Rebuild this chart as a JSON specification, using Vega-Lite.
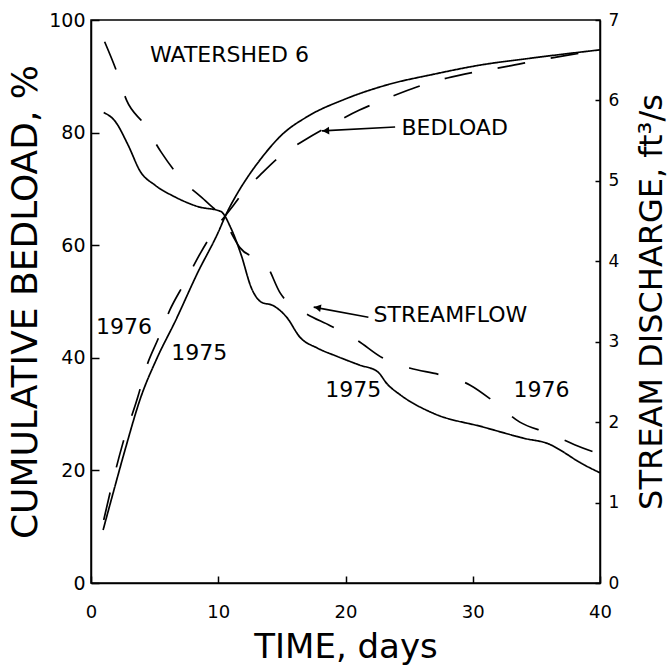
{
  "$schema": "https://vega.github.io/schema/vega-lite/v6.json",
  "width": 509,
  "height": 563,
  "autosize": {"type": "none"},
  "padding": {"left": 91, "top": 20, "right": 72, "bottom": 83},
  "background": "white",
  "config": {
    "font": "DejaVu Sans",
    "view": {"stroke": "black", "strokeWidth": 1.5},
    "axis": {
      "domainColor": "black", "domainWidth": 1.5,
      "tickColor": "black", "tickWidth": 1.5,
      "labelColor": "black", "titleColor": "black",
      "titleFontWeight": "normal", "grid": false,
      "labelFont": "DejaVu Sans", "titleFont": "DejaVu Sans"
    }
  },
  "datasets": {
    "bedload": [
      {"t": 0.95, "p": 9.4, "year": "1975"},
      {"t": 1.8, "p": 16.5, "year": "1975"},
      {"t": 2.67, "p": 23.6, "year": "1975"},
      {"t": 3.9, "p": 32.9, "year": "1975"},
      {"t": 5.2, "p": 40.0, "year": "1975"},
      {"t": 6.6, "p": 46.4, "year": "1975"},
      {"t": 8.4, "p": 55.2, "year": "1975"},
      {"t": 10.0, "p": 62.3, "year": "1975"},
      {"t": 10.6, "p": 65.4, "year": "1975"},
      {"t": 11.5, "p": 69.2, "year": "1975"},
      {"t": 12.4, "p": 72.4, "year": "1975"},
      {"t": 13.3, "p": 75.2, "year": "1975"},
      {"t": 14.9, "p": 79.4, "year": "1975"},
      {"t": 17.2, "p": 83.1, "year": "1975"},
      {"t": 19.8, "p": 85.8, "year": "1975"},
      {"t": 23.3, "p": 88.5, "year": "1975"},
      {"t": 27.0, "p": 90.4, "year": "1975"},
      {"t": 30.6, "p": 92.0, "year": "1975"},
      {"t": 34.5, "p": 93.2, "year": "1975"},
      {"t": 40.0, "p": 94.7, "year": "1975"},
      {"t": 1.0, "p": 11.2, "year": "1976"},
      {"t": 1.6, "p": 17.0, "year": "1976"},
      {"t": 2.5, "p": 24.8, "year": "1976"},
      {"t": 3.7, "p": 33.2, "year": "1976"},
      {"t": 4.3, "p": 38.0, "year": "1976"},
      {"t": 5.3, "p": 43.5, "year": "1976"},
      {"t": 6.2, "p": 48.5, "year": "1976"},
      {"t": 7.4, "p": 53.5, "year": "1976"},
      {"t": 8.6, "p": 58.6, "year": "1976"},
      {"t": 9.8, "p": 63.0, "year": "1976"},
      {"t": 11.0, "p": 66.5, "year": "1976"},
      {"t": 12.0, "p": 69.5, "year": "1976"},
      {"t": 13.3, "p": 72.5, "year": "1976"},
      {"t": 14.7, "p": 75.5, "year": "1976"},
      {"t": 16.8, "p": 78.7, "year": "1976"},
      {"t": 18.8, "p": 81.3, "year": "1976"},
      {"t": 21.1, "p": 84.0, "year": "1976"},
      {"t": 23.3, "p": 86.1, "year": "1976"},
      {"t": 25.6, "p": 88.1, "year": "1976"},
      {"t": 28.0, "p": 89.7, "year": "1976"},
      {"t": 30.3, "p": 90.8, "year": "1976"},
      {"t": 32.8, "p": 91.8, "year": "1976"},
      {"t": 35.3, "p": 92.9, "year": "1976"},
      {"t": 37.6, "p": 93.8, "year": "1976"},
      {"t": 40.0, "p": 94.6, "year": "1976"}
    ],
    "streamflow": [
      {"t": 1.0, "q": 5.85, "year": "1975"},
      {"t": 1.9, "q": 5.74, "year": "1975"},
      {"t": 2.9, "q": 5.45, "year": "1975"},
      {"t": 3.9, "q": 5.11, "year": "1975"},
      {"t": 5.0, "q": 4.95, "year": "1975"},
      {"t": 6.6, "q": 4.80, "year": "1975"},
      {"t": 8.4, "q": 4.68, "year": "1975"},
      {"t": 10.2, "q": 4.62, "year": "1975"},
      {"t": 11.0, "q": 4.41, "year": "1975"},
      {"t": 11.8, "q": 4.08, "year": "1975"},
      {"t": 12.6, "q": 3.67, "year": "1975"},
      {"t": 13.4, "q": 3.49, "year": "1975"},
      {"t": 14.3, "q": 3.45, "year": "1975"},
      {"t": 15.4, "q": 3.30, "year": "1975"},
      {"t": 16.4, "q": 3.06, "year": "1975"},
      {"t": 17.8, "q": 2.92, "year": "1975"},
      {"t": 19.3, "q": 2.82, "year": "1975"},
      {"t": 21.1, "q": 2.71, "year": "1975"},
      {"t": 22.5, "q": 2.63, "year": "1975"},
      {"t": 23.3, "q": 2.47, "year": "1975"},
      {"t": 24.3, "q": 2.34, "year": "1975"},
      {"t": 26.9, "q": 2.11, "year": "1975"},
      {"t": 30.8, "q": 1.94, "year": "1975"},
      {"t": 34.0, "q": 1.80, "year": "1975"},
      {"t": 36.1, "q": 1.72, "year": "1975"},
      {"t": 36.9, "q": 1.65, "year": "1975"},
      {"t": 38.4, "q": 1.50, "year": "1975"},
      {"t": 40.0, "q": 1.37, "year": "1975"},
      {"t": 1.07, "q": 6.73, "year": "1976"},
      {"t": 1.97, "q": 6.38, "year": "1976"},
      {"t": 2.8, "q": 6.0, "year": "1976"},
      {"t": 4.2, "q": 5.70, "year": "1976"},
      {"t": 5.5, "q": 5.36, "year": "1976"},
      {"t": 7.0, "q": 5.04, "year": "1976"},
      {"t": 9.0, "q": 4.75, "year": "1976"},
      {"t": 10.3, "q": 4.55, "year": "1976"},
      {"t": 11.7, "q": 4.17, "year": "1976"},
      {"t": 13.8, "q": 3.95, "year": "1976"},
      {"t": 14.85, "q": 3.61, "year": "1976"},
      {"t": 16.7, "q": 3.37, "year": "1976"},
      {"t": 18.8, "q": 3.20, "year": "1976"},
      {"t": 20.9, "q": 3.02, "year": "1976"},
      {"t": 22.9, "q": 2.80, "year": "1976"},
      {"t": 25.1, "q": 2.67, "year": "1976"},
      {"t": 27.4, "q": 2.59, "year": "1976"},
      {"t": 29.8, "q": 2.46, "year": "1976"},
      {"t": 31.7, "q": 2.25, "year": "1976"},
      {"t": 33.7, "q": 2.00, "year": "1976"},
      {"t": 36.0, "q": 1.86, "year": "1976"},
      {"t": 38.0, "q": 1.72, "year": "1976"},
      {"t": 40.0, "q": 1.60, "year": "1976"}
    ],
    "labels": [
      {"t": 4.64, "p": 93.8, "label": "WATERSHED 6"},
      {"t": 24.4, "p": 80.8, "label": "BEDLOAD"},
      {"t": 22.2, "p": 47.6, "label": "STREAMFLOW"},
      {"t": 0.4, "p": 45.5, "label": "1976"},
      {"t": 6.3, "p": 40.9, "label": "1975"},
      {"t": 18.4, "p": 34.3, "label": "1975"},
      {"t": 33.2, "p": 34.3, "label": "1976"}
    ],
    "arrows": [
      {"name": "BEDLOAD", "t": 23.9, "p": 81.0, "t2": 18.15, "p2": 80.3},
      {"name": "STREAMFLOW", "t": 21.8, "p": 47.2, "t2": 17.5, "p2": 49.0}
    ],
    "heads": [
      {"name": "BEDLOAD", "t": 18.45, "p": 80.3},
      {"name": "STREAMFLOW", "t": 17.8, "p": 48.9}
    ]
  },
  "encoding": {
    "x": {
      "field": "t", "type": "quantitative",
      "scale": {"domain": [0, 40], "nice": false, "zero": false},
      "axis": {
        "values": [0, 10, 20, 30, 40], "tickSize": -7, "labelPadding": 27,
        "labelFontSize": 18, "title": "TIME, days", "titleFontSize": 34,
        "titlePadding": 9, "labelFlush": false
      }
    }
  },
  "layer": [
    {
      "encoding": {
        "y": {
          "field": "p", "type": "quantitative",
          "scale": {"domain": [0, 100], "nice": false},
          "axis": {
            "orient": "left", "values": [0, 20, 40, 60, 80, 100],
            "tickSize": -8, "labelPadding": 14, "labelFontSize": 19,
            "title": "CUMULATIVE BEDLOAD, %", "titleFontSize": 36,
            "titlePadding": 4, "labelFlush": false
          }
        }
      },
      "layer": [
        {
          "data": {"name": "bedload"},
          "mark": {"type": "line", "color": "black", "strokeWidth": 1.7, "interpolate": "monotone"},
          "encoding": {
            "detail": {"field": "year", "type": "nominal"},
            "strokeDash": {
              "field": "year", "type": "nominal",
              "scale": {"domain": ["1975", "1976"], "range": [[1, 0], [28, 26]]},
              "legend": null
            }
          }
        },
        {
          "data": {"name": "labels"},
          "mark": {"type": "text", "align": "left", "baseline": "middle", "fontSize": 22, "color": "black"},
          "encoding": {"text": {"field": "label", "type": "nominal"}}
        },
        {
          "data": {"name": "arrows"},
          "mark": {"type": "rule", "color": "black", "strokeWidth": 1.6},
          "encoding": {
            "x2": {"field": "t2"},
            "y2": {"field": "p2"}
          }
        },
        {
          "data": {"name": "heads"},
          "transform": [{"filter": "datum.name == 'BEDLOAD'"}],
          "mark": {"type": "point", "shape": "triangle-left", "filled": true, "color": "black", "size": 60, "angle": -3, "opacity": 1},
          "encoding": {}
        },
        {
          "data": {"name": "heads"},
          "transform": [{"filter": "datum.name == 'STREAMFLOW'"}],
          "mark": {"type": "point", "shape": "triangle-left", "filled": true, "color": "black", "size": 60, "angle": 10, "opacity": 1},
          "encoding": {}
        }
      ]
    },
    {
      "data": {"name": "streamflow"},
      "mark": {"type": "line", "color": "black", "strokeWidth": 1.7, "interpolate": "monotone"},
      "encoding": {
        "y": {
          "field": "q", "type": "quantitative",
          "scale": {"domain": [0, 7], "nice": false},
          "axis": {
            "orient": "right", "values": [0, 1, 2, 3, 4, 5, 6, 7],
            "tickSize": -5, "labelPadding": 13, "labelFontSize": 17,
            "title": "STREAM DISCHARGE, ft³/s", "titleFontSize": 32,
            "titleAngle": 270, "titlePadding": 50, "labelFlush": false
          }
        },
        "detail": {"field": "year", "type": "nominal"},
        "strokeDash": {
          "field": "year", "type": "nominal",
          "scale": {"domain": ["1975", "1976"], "range": [[1, 0], [30, 28]]},
          "legend": null
        }
      }
    }
  ],
  "resolve": {"scale": {"y": "independent", "strokeDash": "independent"}}
}
